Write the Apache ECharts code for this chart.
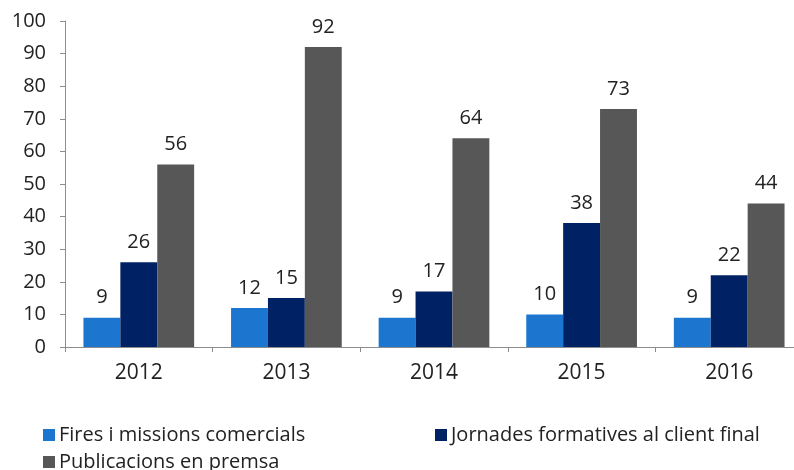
<!DOCTYPE html>
<html>
<head>
<meta charset="utf-8">
<script src="https://cdn.jsdelivr.net/npm/echarts@6/dist/echarts.min.js"></script>
<style>
  html, body { margin: 0; padding: 0; background: #fff; }
  #chart { width: 794px; height: 470px; }
</style>
</head>
<body>
<div id="chart"></div>
<script>
// Activity counts per year
const years = ['2012', '2013', '2014', '2015', '2016'];
const seriesNames = ['Fires i missions comercials', 'Jornades formatives al client final', 'Publicacions en premsa'];
const fires = [9, 12, 9, 10, 9];
const jornades = [26, 15, 17, 38, 22];
const publicacions = [56, 92, 64, 73, 44];
const yTicks = { min: 0, max: 100, interval: 10 };

const colors = ['#1c76d0', '#002265', '#575757'];
const font = '"Open Sans", "Noto Sans", sans-serif';

const chart = echarts.init(document.getElementById('chart'), null, { renderer: 'canvas' });

function barSeries(name, data, color) {
  return {
    name: name,
    type: 'bar',
    data: data,
    barGap: '0%',
    barCategoryGap: '25%',
    itemStyle: { color: color },
    label: {
      show: true,
      position: 'top',
      distance: 10,
      color: '#222',
      fontFamily: font,
      fontSize: 20
    }
  };
}

chart.setOption({
  animation: false,
  color: colors,
  // the last category runs slightly past the right edge of the canvas
  grid: { left: 65, width: 738, top: 21, bottom: 123, containLabel: false, outerBoundsMode: 'none' },
  xAxis: {
    type: 'category',
    data: years,
    axisLine: { lineStyle: { color: '#8c8c8c', width: 1 } },
    axisTick: { show: true, length: 5, lineStyle: { color: '#8c8c8c' } },
    axisLabel: { color: '#222', fontFamily: font, fontSize: 21, margin: 16 }
  },
  yAxis: {
    type: 'value',
    min: yTicks.min,
    max: yTicks.max,
    interval: yTicks.interval,
    splitLine: { show: false },
    axisLine: { show: true, lineStyle: { color: '#8c8c8c', width: 1 } },
    axisTick: { show: true, length: 5, lineStyle: { color: '#8c8c8c' } },
    axisLabel: { color: '#222', fontFamily: font, fontSize: 20, margin: 19 }
  },
  legend: [
    { data: [seriesNames[0]], left: 38, top: 420 },
    { data: [seriesNames[1]], left: 430, top: 420 },
    { data: [seriesNames[2]], left: 38, top: 447 }
  ].map(l => Object.assign({
    orient: 'horizontal',
    itemWidth: 12,
    itemHeight: 12,
    icon: 'rect',
    textStyle: { color: '#222', fontFamily: font, fontSize: 20, padding: [0, 0, 0, -1] }
  }, l)),
  series: [
    barSeries(seriesNames[0], fires, colors[0]),
    barSeries(seriesNames[1], jornades, colors[1]),
    barSeries(seriesNames[2], publicacions, colors[2])
  ]
});
</script>
</body>
</html>
